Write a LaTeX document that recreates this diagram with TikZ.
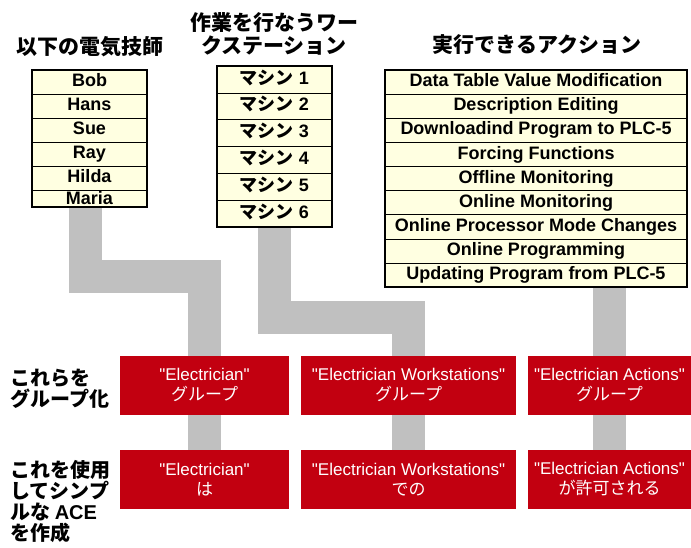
\documentclass[tikz,border=0pt]{standalone}
\usepackage{fontspec}
\setmainfont{Liberation Sans}
\newfontfamily\jp{Noto Sans CJK JP}
\newfontfamily\boxfont{Liberation Sans}
\usetikzlibrary{positioning,backgrounds}
\definecolor{cellyellow}{RGB}{255,255,225}
\definecolor{acered}{RGB}{194,0,16}
\definecolor{linkgray}{RGB}{192,192,192}
\tikzset{
    title/.style={
    font=\jp\bfseries\fontsize{21bp}{23bp}\selectfont,align=center,inner sep=0pt
    },
    cell/.style={
    rectangle,draw=black,fill=cellyellow,inner sep=0pt,text height=13bp,text depth=3.5bp,
    font=\bfseries\fontsize{18bp}{20bp}\selectfont
    },
    namecell/.style={
    cell,minimum width=115bp,minimum height=24bp
    },
    pccell/.style={
    cell,minimum width=115bp,minimum height=26.8bp
    },
    actcell/.style={
    cell,minimum width=302bp,minimum height=24.1bp
    },
    frame/.style={
    draw=black,line width=2bp
    },
    group/.style={
    rectangle,fill=acered,text=white,inner sep=0pt,minimum height=58.7bp,align=center,
    font=\boxfont\fontsize{17bp}{20bp}\selectfont
    },
    sidelabel/.style={
    font=\jp\bfseries\fontsize{20bp}{21bp}\selectfont,align=left,anchor=west,inner sep=0pt
    },
    link/.style={
    draw=linkgray,line width=33bp,line cap=butt,line join=miter
    },
}

\begin{document}
\begin{tikzpicture}[x=1bp, y=-1bp]
   \useasboundingbox (0,0) rectangle (691,548);

   % headings
   \node[title] (ttlE) at (90,47) {以下の電気技師};
   \node[title] (ttlW) at (274,34) {作業を行なうワー\\クステーション};
   \node[title] (ttlA) at (537,45) {実行できるアクション};

   % electricians
   \node[namecell] (bob) at (89.5,82) {Bob};
   \node[namecell] (hans) at (89.5,106) {Hans};
   \node[namecell] (sue) at (89.5,130) {Sue};
   \node[namecell] (ray) at (89.5,154) {Ray};
   \node[namecell] (hilda) at (89.5,178) {Hilda};
   \node[namecell,minimum height=16bp,text depth=1.5bp] (maria) at (89.5,198.5) {Maria};
   \draw[frame] (bob.north west) rectangle (maria.south east);

   % workstations
   \node[pccell] (m1) at (274.5,79.4) {{\jp マシン} 1};
   \node[pccell] (m2) at (274.5,106.2) {{\jp マシン} 2};
   \node[pccell] (m3) at (274.5,133) {{\jp マシン} 3};
   \node[pccell] (m4) at (274.5,159.8) {{\jp マシン} 4};
   \node[pccell] (m5) at (274.5,186.6) {{\jp マシン} 5};
   \node[pccell] (m6) at (274.5,213.4) {{\jp マシン} 6};
   \draw[frame] (m1.north west) rectangle (m6.south east);

   % actions
   \node[actcell] (dtv) at (536,82.05) {Data Table Value Modification};
   \node[actcell] (dsc) at (536,106.15) {Description Editing};
   \node[actcell] (dwn) at (536,130.25) {Downloadind Program to PLC-5};
   \node[actcell] (frc) at (536,154.35) {Forcing Functions};
   \node[actcell] (ofm) at (536,178.45) {Offline Monitoring};
   \node[actcell] (onm) at (536,202.55) {Online Monitoring};
   \node[actcell] (opm) at (536,226.65) {Online Processor Mode Changes};
   \node[actcell] (onp) at (536,250.75) {Online Programming};
   \node[actcell] (upd) at (536,274.85) {Updating Program from PLC-5};
   \draw[frame] (dtv.north west) rectangle (upd.south east);

   % groups
   \node[group,minimum width=169bp] (grpE) at (204.5,385.35) {"Electrician"\\{\jp グループ}};
   \node[group,minimum width=215bp] (grpW) at (408.5,385.35) {"Electrician Workstations"\\{\jp グループ}};
   \node[group,minimum width=163bp] (grpA) at (609.5,385.35) {"Electrician Actions"\\{\jp グループ}};

   % ACE
   \node[group,minimum width=169bp] (aceE) at (204.5,479.35) {"Electrician"\\{\jp は}};
   \node[group,minimum width=215bp] (aceW) at (408.5,479.35) {"Electrician Workstations"\\{\jp での}};
   \node[group,minimum width=163bp] (aceA) at (609.5,479.35) {"Electrician Actions"\\{\jp が許可される}};

   \node[sidelabel] (lblGroup) at (10,389) {これらを\\グループ化};
   \node[sidelabel] (lblAce) at (10,502) {これを使用\\してシンプ\\ルな {\normalfont\bfseries ACE}\\を作成};

   \coordinate (bendE) at (0,276.5);
   \coordinate (bendW) at (0,317);

   \begin{scope}[on background layer]
   \path[link]
     ([xshift=-4bp]maria.south) |- (bendE -| grpE.north) -- (grpE.north)
     (m6.south) |- (bendW -| grpW.north) -- (grpW.north)
     (upd.south -| grpA.north) -- (grpA.north)
     (grpE.south) -- (aceE.north)
     (grpW.south) -- (aceW.north)
     (grpA.south) -- (aceA.north);
   \end{scope}
  \end{tikzpicture}
\end{document}
